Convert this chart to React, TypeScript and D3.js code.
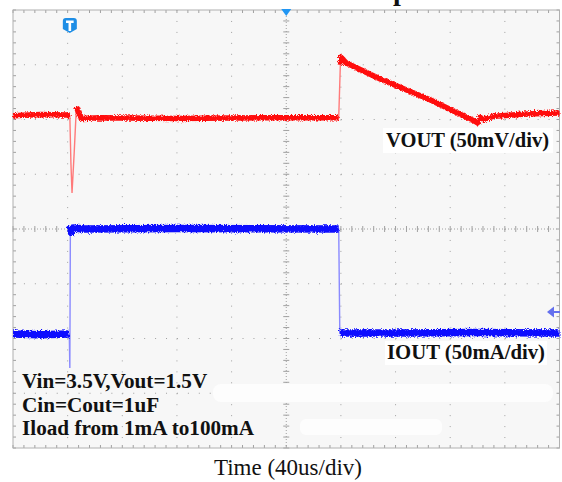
import React from 'react';
import * as d3 from 'd3';

// scope screen: 10 time divisions, 8 vertical divisions (0 = centre line)
const timeDivs = d3.range(0, 11);
const voltDivs = d3.range(-4, 5);

// VOUT trace, [time div, vertical div]
const vout: [number, number][] = [
  [0, 2.07], [0.5, 2.09], [1.0, 2.08], [1.04, 2.06], [1.06, 1.2], [1.08, 0.66],
  [1.12, 1.4], [1.16, 2.23], [1.19, 2.15], [1.24, 2.02], [1.6, 2.03], [3, 2.02],
  [4.5, 2.03], [5.96, 2.03], [5.99, 3.0], [6.0, 3.14], [6.1, 3.03], [6.72, 2.74],
  [7.63, 2.36], [8.45, 1.97], [8.5, 1.94], [8.55, 2.04], [8.6, 2.0], [8.8, 2.06],
  [9.4, 2.1], [10, 2.12],
];

// IOUT trace
const iout: [number, number][] = [
  [0, -1.92], [0.5, -1.93], [1.03, -1.92], [1.04, -2.54], [1.05, 0.06],
  [1.07, -0.06], [1.1, 0.02], [1.3, 0], [3, 0.01], [5.96, 0], [5.98, -1.9],
  [7, -1.9], [8.5, -1.89], [10, -1.9],
];

const voutLabel = 'VOUT (50mV/div)';
const ioutLabel = 'IOUT (50mA/div)';
const notes = ['Vin=3.5V,Vout=1.5V', 'Cin=Cout=1uF', 'Iload from 1mA to100mA'];
const timeLabel = 'Time (40us/div)';

const W = 562;
const H = 482;

const x = d3.scaleLinear().domain([0, 10]).range([13, 559.5]);
const y = d3.scaleLinear().domain([4, -4]).range([10, 448]);

// split a trace into slow runs (drawn thick) - fast edges stay thin
function slowRuns(pts: [number, number][]) {
  const runs: [number, number][][] = [];
  let cur: [number, number][] = [];
  for (let i = 1; i < pts.length; i++) {
    const dx = Math.abs(x(pts[i][0]) - x(pts[i - 1][0]));
    const dy = Math.abs(y(pts[i][1]) - y(pts[i - 1][1]));
    const fast = dy > 8 && dy > 3 * dx;
    if (fast) {
      if (cur.length > 1) runs.push(cur);
      cur = [];
    } else {
      if (cur.length === 0) cur.push(pts[i - 1]);
      cur.push(pts[i]);
    }
  }
  if (cur.length > 1) runs.push(cur);
  return runs;
}

const line = d3.line<[number, number]>().x(d => x(d[0])).y(d => y(d[1]));

const Trace = ({ pts, color, edge, width }: { pts: [number, number][]; color: string; edge: string; width: number }) => (
  <g>
    <path d={line(pts) ?? ''} fill="none" stroke={edge} strokeWidth={1.4} />
    <g filter="url(#noisy)">
      {slowRuns(pts).map((r, i) => (
        <path key={i} d={line(r) ?? ''} fill="none" stroke={color} strokeWidth={width}
          strokeLinejoin="round" />
      ))}
    </g>
  </g>
);

export default function App() {
  const minorX = (x(1) - x(0)) / 5;
  const minorY = (y(0) - y(1)) / 5;
  const minorTimes = d3.range(0, 50.01).map(i => i / 5);
  const minorVolts = d3.range(-20, 20.01).map(i => i / 5);
  const grid = '#a0a0a0';

  return (
    <svg width={W} height={H} style={{ position: 'absolute', left: 0, top: 0, background: '#fff' }}>
      <defs>
        <filter id="noisy" filterUnits="userSpaceOnUse" x={0} y={0} width={W} height={H}>
          <feTurbulence type="fractalNoise" baseFrequency="0.85" numOctaves={2} seed={3} />
          <feDisplacementMap in="SourceGraphic" scale={5} />
        </filter>
      </defs>

      <rect x={x(0)} y={y(4)} width={x(10) - x(0)} height={y(-4) - y(4)} fill="#f7f7f7" />

      {/* major grid */}
      {timeDivs.filter(t => t > 0 && t < 10 && t !== 5).map(t => (
        <line key={'v' + t} x1={x(t)} x2={x(t)} y1={y(4)} y2={y(-4)} stroke={grid}
          strokeWidth={1} strokeDasharray={`1 ${minorY - 1}`} />
      ))}
      {voltDivs.filter(v => v > -4 && v < 4 && v !== 0).map(v => (
        <line key={'h' + v} x1={x(0)} x2={x(10)} y1={y(v)} y2={y(v)} stroke={grid}
          strokeWidth={1} strokeDasharray={`1 ${minorX - 1}`} />
      ))}

      {/* centre axes with ticks */}
      <line x1={x(5)} x2={x(5)} y1={y(4)} y2={y(-4)} stroke={grid} strokeDasharray="1 2" />
      <line x1={x(0)} x2={x(10)} y1={y(0)} y2={y(0)} stroke={grid} strokeDasharray="1 2" />
      {minorVolts.map(v => (
        <line key={'cy' + v} x1={x(5) - 3} x2={x(5) + 3} y1={y(v)} y2={y(v)} stroke={grid} />
      ))}
      {minorTimes.map(t => (
        <line key={'cx' + t} x1={x(t)} x2={x(t)} y1={y(0) - 3} y2={y(0) + 3} stroke={grid} />
      ))}

      {/* border ticks */}
      {minorTimes.map(t => (
        <g key={'bt' + t}>
          <line x1={x(t)} x2={x(t)} y1={y(4)} y2={y(4) + 3} stroke={grid} />
          <line x1={x(t)} x2={x(t)} y1={y(-4)} y2={y(-4) - 3} stroke={grid} />
        </g>
      ))}
      {minorVolts.map(v => (
        <g key={'bv' + v}>
          <line x1={x(0)} x2={x(0) + 3} y1={y(v)} y2={y(v)} stroke={grid} />
          <line x1={x(10)} x2={x(10) - 3} y1={y(v)} y2={y(v)} stroke={grid} />
        </g>
      ))}
      <rect x={x(0)} y={y(4)} width={x(10) - x(0)} height={y(-4) - y(4)} fill="none" stroke="#b0b0b0" />

      {/* white patches */}
      <rect x={213} y={384} width={340} height={18} rx={8} fill="#fdfdfd" />
      <rect x={300} y={419} width={142} height={16} rx={6} fill="#fdfdfd" />

      <Trace pts={vout} color="#ff0a0a" edge="#ff7a7a" width={5.5} />
      <Trace pts={iout} color="#1010ff" edge="#8a8aff" width={7.5} />

      {/* markers */}
      <path d={`M${x(1.04) - 7},21 q0,-3 3,-3 h8 q3,0 3,3 v8 l-7,4 l-7,-4 z`} fill="#1e8ee6" />
      <path d={`M${x(1.04) - 3.8},20.5 h7.6 v2.6 h-2.5 v8 h-2.6 v-8 h-2.5 z`} fill="#fff" />
      <polygon points={`${x(5) - 5},${y(4) - 1} ${x(5) + 5},${y(4) - 1} ${x(5)},${y(4) + 6}`} fill="#2196f3" />
      <line x1={552} x2={560} y1={312} y2={312} stroke="#6470ee" strokeWidth={2} />
      <polygon points="547,312 554,306.5 554,317.5" fill="#6470ee" />

      {/* labels */}
      <text x={393} y={-0.5} fontFamily="Liberation Serif" fontWeight="bold" fontSize={28} fill="#111">p</text>
      <rect x={383} y={128} width={170} height={25} fill="#fff" />
      <text x={386} y={147} fontFamily="Liberation Serif" fontWeight="bold" fontSize={20.4} fill="#111"
        textLength={163} lengthAdjust="spacingAndGlyphs">{voutLabel}</text>
      <rect x={385} y={341} width={162} height={24} fill="#fff" />
      <text x={387} y={359} fontFamily="Liberation Serif" fontWeight="bold" fontSize={20.4} fill="#111"
        textLength={158} lengthAdjust="spacingAndGlyphs">{ioutLabel}</text>
      {notes.map((n, i) => (
        <text key={n} x={22} y={388 + i * 23.5} fontFamily="Liberation Serif" fontWeight="bold"
          fontSize={21.2} fill="#111">{n}</text>
      ))}
      <text x={288} y={475} textAnchor="middle" fontFamily="Liberation Serif" fontSize={23} fill="#111">{timeLabel}</text>
    </svg>
  );
}
